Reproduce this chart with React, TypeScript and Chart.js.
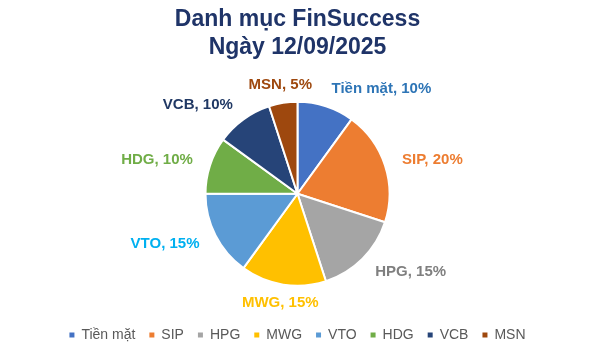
import React, { useEffect, useRef } from "react";
import { Chart, registerables } from "chart.js";

Chart.register(...registerables);

const titleLines = ["Danh mục FinSuccess", "Ngày 12/09/2025"];
const categories = ["Tiền mặt", "SIP", "HPG", "MWG", "VTO", "HDG", "VCB", "MSN"];
const weights = [10, 20, 15, 15, 15, 10, 10, 5];
const sliceColors = ["#4472C4", "#ED7D31", "#A5A5A5", "#FFC000", "#5B9BD5", "#70AD47", "#264478", "#9E480E"];
const labelColors = ["#2E75B6", "#ED7D31", "#7F7F7F", "#FFC000", "#00B0F0", "#70AD47", "#203864", "#9E480E"];

const FONT = "'Liberation Sans', Arial, sans-serif";

const outsideLabels = {
  id: "outsideLabels",
  afterDatasetsDraw(chart: any) {
    const ctx = chart.ctx;
    const meta = chart.getDatasetMeta(0);
    const data = chart.data.datasets[0].data as number[];
    ctx.save();
    ctx.font = `bold 15px ${FONT}`;
    ctx.textBaseline = "middle";
    meta.data.forEach((arc: any, i: number) => {
      const p = arc.getProps(["x", "y", "startAngle", "endAngle", "outerRadius"], true);
      const mid = (p.startAngle + p.endAngle) / 2;
      const d = p.outerRadius + 18;
      const cx = Math.cos(mid);
      const x = p.x + cx * d;
      const y = p.y + Math.sin(mid) * d;
      ctx.textAlign = cx > 0.3 ? "left" : cx < -0.3 ? "right" : "center";
      ctx.fillStyle = labelColors[i];
      ctx.fillText(`${chart.data.labels[i]}, ${data[i]}%`, x, y);
    });
    ctx.restore();
  },
};

export default function App() {
  const ref = useRef<HTMLCanvasElement>(null);
  useEffect(() => {
    const chart = new Chart(ref.current!, {
      type: "pie",
      data: {
        labels: categories,
        datasets: [
          {
            data: weights,
            backgroundColor: sliceColors,
            borderColor: "#FFFFFF",
            borderWidth: 2,
            radius: 92,
          } as any,
        ],
      },
      options: {
        animation: false,
        responsive: true,
        maintainAspectRatio: false,
        layout: { padding: { top: 0, bottom: 1 } },
        plugins: {
          title: {
            display: true,
            text: titleLines,
            color: "#1F3468",
            font: { family: FONT, size: 23, weight: "bold", lineHeight: 1.25 },
            padding: { top: 5, bottom: 11 },
          },
          legend: {
            display: true,
            position: "bottom",
            labels: {
              boxWidth: 5,
              boxHeight: 5,
              padding: 14,
              color: "#595959",
              font: { family: FONT, size: 14 },
              generateLabels: (chart: any) =>
                (chart.data.labels as string[]).map((t, i) => ({
                  text: t,
                  fillStyle: sliceColors[i],
                  strokeStyle: sliceColors[i],
                  lineWidth: 0,
                  hidden: false,
                  index: i,
                  fontColor: "#595959",
                })),
            },
          },
          tooltip: { enabled: false },
        },
      },
      plugins: [outsideLabels],
    });
    return () => chart.destroy();
  }, []);
  return (
    <div style={{ position: "fixed", left: 0, top: 0, width: 595, height: 353, background: "#fff" }}>
      <canvas ref={ref} />
    </div>
  );
}
